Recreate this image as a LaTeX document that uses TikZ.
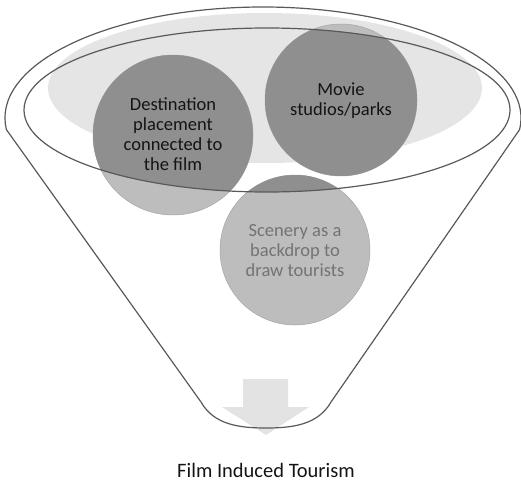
\documentclass[tikz,border=0pt]{standalone}
\usepackage{fontspec}
\setmainfont{Carlito}
\begin{document}
\begin{tikzpicture}[x=1pt,y=1pt,
  rim/.style={draw=black!65, line width=1.2pt},
  bubblelight/.style={fill=black!26, draw=black!35, line width=0.5pt},
  bubbledark/.style={fill=black!44},
  ctext/.style={align=center, font=\fontsize{18.5}{20}\selectfont, text=black!92},
  ltext/.style={align=center, font=\fontsize{18.5}{20}\selectfont, text=black!55}]
\useasboundingbox (0,0) rectangle (521,483);
% light inner surface
\fill[black!10] (265,395) ellipse [x radius=217, y radius=75];
% arrow
\node[coordinate] (arrtip) at (266,48) {};
\fill[black!11] (243,104) -- (288,104) -- (288,76) -- (309,76) -- (arrtip) -- (222,76) -- (243,76) -- cycle;
% circles (light part)
\path[bubblelight] (173,348) circle [radius=80];
\path[bubblelight] (341,383) circle [radius=76];
\path[bubblelight] (295,233) circle [radius=75];
% darker part inside the rim
\begin{scope}
  \clip (267,373) ellipse [x radius=243, y radius=82];
  \path[bubbledark] (173,348) circle [radius=80];
  \path[bubbledark] (341,383) circle [radius=76];
  \path[bubbledark] (295,233) circle [radius=75];
\end{scope}
% rim ellipse
\draw[rim] (267,373) ellipse [x radius=243, y radius=82];
% funnel outline
\draw[rim, line join=round] (6.4,353.4) arc [start angle=186, end angle=-6, x radius=258, y radius=111]
  -- (331,81) .. controls (318,58) and (292,55) .. (266,55)
  .. controls (240,55) and (214,58) .. (201,81) -- cycle;
% texts
\node[ctext] (dest) at (173,349) {Destination\\placement\\connected to\\the film};
\node[ctext] (movie) at (341,382) {Movie\\studios/parks};
\node[ltext] (scen) at (295,232) {Scenery as a\\backdrop to\\draw tourists};
\node[font=\fontsize{20.5}{24}\selectfont, text=black!92] (title) at (266,13) {Film Induced Tourism};
\end{tikzpicture}
\end{document}
